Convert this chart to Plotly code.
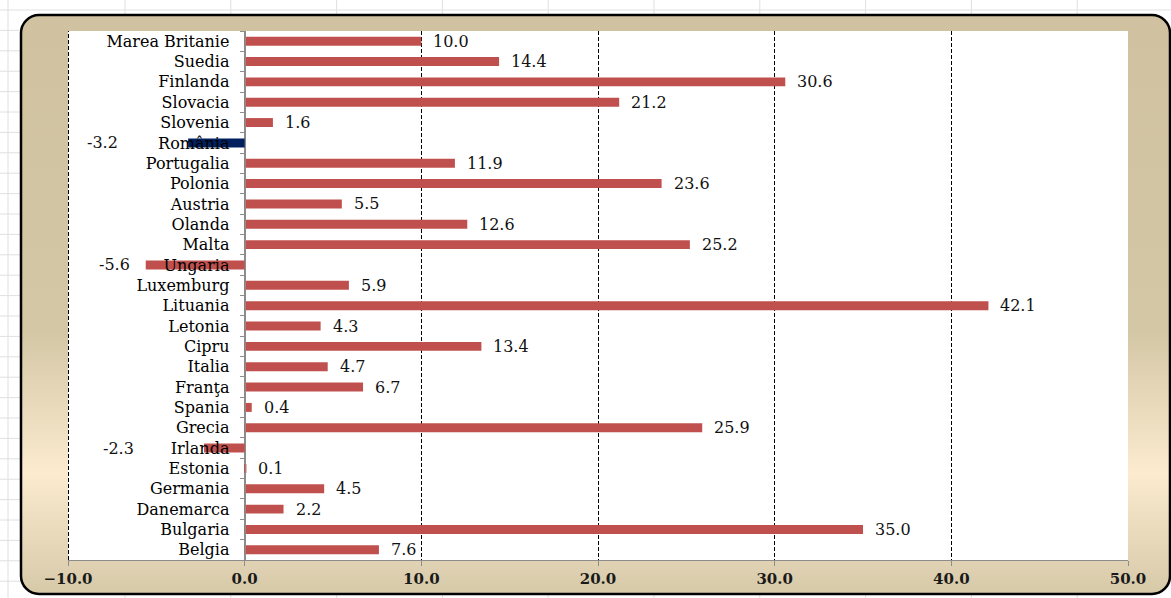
import base64
import plotly.graph_objects as go

# ---------------- data ----------------
countries = ["Belgia", "Bulgaria", "Danemarca", "Germania", "Estonia", "Irlanda",
             "Grecia", "Spania", "Franţa", "Italia", "Cipru", "Letonia", "Lituania",
             "Luxemburg", "Ungaria", "Malta", "Olanda", "Austria", "Polonia",
             "Portugalia", "România", "Slovenia", "Slovacia", "Finlanda", "Suedia",
             "Marea Britanie"]
values = [7.6, 35.0, 2.2, 4.5, 0.1, -2.3, 25.9, 0.4, 6.7, 4.7, 13.4, 4.3, 42.1,
          5.9, -5.6, 25.2, 12.6, 5.5, 23.6, 11.9, -3.2, 1.6, 21.2, 30.6, 14.4, 10.0]
highlight = "România"
x_ticks = [-10, 0, 10, 20, 30, 40, 50]

# ---------------- layout constants ----------------
W, H = 1171, 598
L, R, T, B = 68, 43, 31, 38
PW, PH = W - L - R, H - T - B
RED = "#C0504D"
NAVY = "#002060"
SERIF = "DejaVu Serif, Liberation Serif, serif"

# background frame (decoration) as inline SVG
grid_lines = []
for i in range(12):
    gx = 8 if i == 0 else 125 + 105.8 * (i - 1)
    grid_lines.append(f'<line x1="{gx:.1f}" y1="0" x2="{gx:.1f}" y2="{H}" stroke="#E0E0E0" stroke-width="1"/>')
for i in range(31):
    gy = 10 + 20.4 * i
    grid_lines.append(f'<line x1="0" y1="{gy:.1f}" x2="{W}" y2="{gy:.1f}" stroke="#E0E0E0" stroke-width="1"/>')
svg = f'''<svg xmlns="http://www.w3.org/2000/svg" width="{W}" height="{H}" viewBox="0 0 {W} {H}">
<defs><linearGradient id="g" x1="0" y1="0" x2="0" y2="1">
<stop offset="0" stop-color="#D0C2A0"/>
<stop offset="0.55" stop-color="#D4C7A6"/>
<stop offset="0.79" stop-color="#FCEBCF"/>
<stop offset="1" stop-color="#D6C9A8"/>
</linearGradient></defs>
<rect x="0" y="0" width="{W}" height="{H}" fill="#FFFFFF"/>
{''.join(grid_lines)}
<rect x="21" y="15" width="1149" height="579" rx="18" ry="18" fill="url(#g)" stroke="#000000" stroke-width="2.5"/>
<rect x="{L}" y="{T}" width="{PW}" height="{PH}" fill="#FFFFFF"/>
</svg>'''
svg_uri = "data:image/svg+xml;base64," + base64.b64encode(svg.encode("utf-8")).decode("ascii")

colors = [NAVY if c == highlight else RED for c in countries]

fig = go.Figure()
fig.add_trace(go.Bar(
    x=values, y=countries, orientation="h", width=0.44,
    marker=dict(color=colors, line=dict(width=0)),
    hoverinfo="x+y", showlegend=False,
))

# value labels
px_per_unit = PW / (x_ticks[-1] - x_ticks[0])
far_gap = 68 / px_per_unit
near_gap = 14 / px_per_unit
LABEL_FONT = dict(family=SERIF, size=16, color="#111111")
annotations = []
for c, v in zip(countries, values):
    if v >= 0:
        annotations.append(dict(x=v, y=c, xref="x", yref="y", text=f"{v:.1f}",
                                xanchor="left", yanchor="middle", xshift=10,
                                showarrow=False, font=LABEL_FONT))
    else:
        right = v - far_gap if v - far_gap >= -8.0 else v - near_gap
        annotations.append(dict(x=right, y=c, xref="x", yref="y", text=f"{v:.1f}",
                                xanchor="right", yanchor="middle",
                                showarrow=False, font=LABEL_FONT))

zero_pos = (0 - x_ticks[0]) / (x_ticks[-1] - x_ticks[0])

# dashed gridlines at the two edges of the value range (plotly omits edge gridlines)
half_px = 0.5 / px_per_unit
edge_lines = [dict(type="line", xref="x", yref="paper", x0=xv + half_px, x1=xv + half_px,
                   y0=0, y1=1,
                   line=dict(color="#000000", width=1, dash="4px,2px"), layer="below")
              for xv in (x_ticks[0], x_ticks[-1])]

fig.update_layout(
    width=W, height=H, autosize=False,
    margin=dict(l=L, r=R, t=T, b=B, pad=0),
    paper_bgcolor="#FFFFFF",
    plot_bgcolor="rgba(0,0,0,0)",
    annotations=annotations,
    shapes=edge_lines,
    images=[dict(source=svg_uri, xref="paper", yref="paper",
                 x=-L / PW, y=1 + T / PH, sizex=W / PW, sizey=H / PH,
                 xanchor="left", yanchor="top", sizing="stretch", layer="below")],
    xaxis=dict(
        range=[x_ticks[0], x_ticks[-1]], tickvals=x_ticks, tickformat=".1f",
        showgrid=True, gridcolor="#000000", gridwidth=1, griddash="4px,2px",
        zeroline=True, zerolinecolor="#8C8C8C", zerolinewidth=1,
        showline=True, linecolor="#8C8C8C", linewidth=1,
        ticks="outside", ticklen=5, tickcolor="#8C8C8C",
        tickfont=dict(family=SERIF, size=15, color="#1A1A1A", weight="bold"),
        automargin=False, fixedrange=True,
    ),
    yaxis=dict(
        type="category", categoryorder="array", categoryarray=countries,
        range=[-0.5, len(countries) - 0.5],
        tickmode="linear", tick0=0, dtick=1,
        anchor="free", position=zero_pos, side="left",
        showline=True, linecolor="#8C8C8C", linewidth=1,
        showgrid=False, zeroline=False,
        ticks="outside", ticklen=5, tickcolor="#8C8C8C", tickson="boundaries",
        ticklabelstandoff=12,
        tickfont=dict(family=SERIF, size=16, color="#000000"),
        automargin=False, fixedrange=True,
    ),
)

fig.write_html("out.html")
